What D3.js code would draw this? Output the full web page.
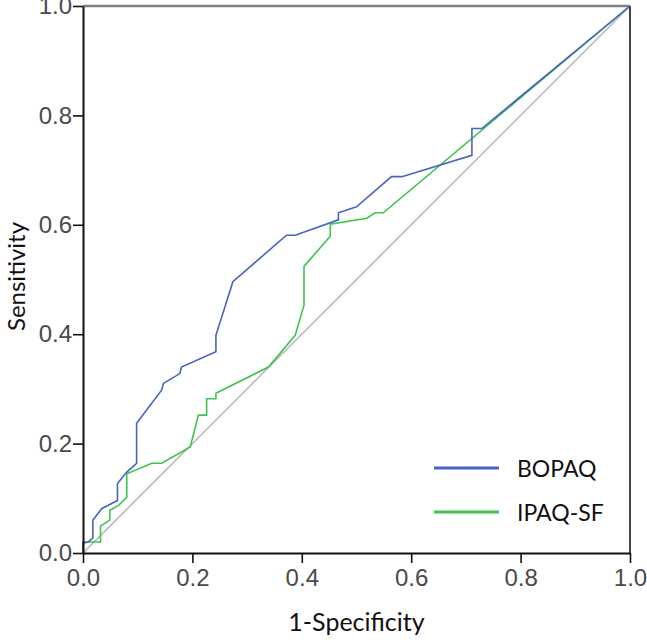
<!DOCTYPE html>
<html>
<head>
<meta charset="utf-8">
<script src="https://cdn.jsdelivr.net/npm/d3@7"></script>
<style>
  html, body { margin: 0; padding: 0; background: #fff; }
  svg { display: block; }
</style>
</head>
<body>
<div id="chart"></div>
<script>
const
  width = 647,
  height = 640;

const margin = {top: 6, right: 17, bottom: 87, left: 83};

// ROC curve points (1-specificity, sensitivity)
const bopaqFpr = [0, 0, 0.009, 0.018, 0.018, 0.034, 0.063, 0.063, 0.080, 0.098, 0.098, 0.144, 0.147, 0.177, 0.180, 0.243, 0.243, 0.274, 0.372, 0.388, 0.467, 0.467, 0.500, 0.564, 0.583, 0.711, 0.711, 0.729, 1];
const bopaqTpr = [0, 0.018, 0.020, 0.027, 0.060, 0.081, 0.096, 0.127, 0.148, 0.164, 0.237, 0.298, 0.310, 0.328, 0.340, 0.368, 0.398, 0.496, 0.581, 0.581, 0.609, 0.622, 0.633, 0.688, 0.688, 0.727, 0.776, 0.776, 1];

const ipaqFpr = [0, 0, 0.032, 0.032, 0.049, 0.049, 0.065, 0.080, 0.080, 0.126, 0.144, 0.196, 0.211, 0.226, 0.226, 0.243, 0.243, 0.339, 0.388, 0.404, 0.404, 0.452, 0.452, 0.519, 0.534, 0.549, 1];
const ipaqTpr = [0, 0.020, 0.020, 0.049, 0.060, 0.078, 0.087, 0.102, 0.145, 0.164, 0.164, 0.194, 0.252, 0.252, 0.282, 0.282, 0.292, 0.340, 0.398, 0.453, 0.524, 0.579, 0.601, 0.612, 0.622, 0.622, 1];

const seriesNames = ["BOPAQ", "IPAQ-SF"];
const seriesColors = ["#4a62c2", "#3ec44f"];
const tickValues = [0, 0.2, 0.4, 0.6, 0.8, 1.0];

const svg = d3.select("#chart")
  .append("svg")
  .attr("width", width)
  .attr("height", height);

const x = d3.scaleLinear()
  .domain([0, 1])
  .range([margin.left, width - margin.right]);

const y = d3.scaleLinear()
  .domain([0, 1])
  .range([height - margin.bottom, margin.top]);

// reference diagonal
svg.append("line")
  .attr("x1", x(0)).attr("y1", y(0))
  .attr("x2", x(1)).attr("y2", y(1))
  .attr("stroke", "#b4b4b4")
  .attr("stroke-width", 1.5);

const line = d3.line()
  .x(d => x(d[0]))
  .y(d => y(d[1]));

const series = [
  d3.zip(bopaqFpr, bopaqTpr),
  d3.zip(ipaqFpr, ipaqTpr)
];

// draw green below blue
[1, 0].forEach(i => {
  svg.append("path")
    .datum(series[i])
    .attr("fill", "none")
    .attr("stroke", seriesColors[i])
    .attr("stroke-width", 1.6)
    .attr("stroke-linejoin", "miter")
    .attr("d", line);
});

// frame: top and right
svg.append("line")
  .attr("x1", x(0)).attr("y1", y(1))
  .attr("x2", x(1)).attr("y2", y(1))
  .attr("stroke", "#7f7f7f")
  .attr("stroke-width", 2.5);

svg.append("line")
  .attr("x1", x(1)).attr("y1", y(1))
  .attr("x2", x(1)).attr("y2", y(0))
  .attr("stroke", "#444")
  .attr("stroke-width", 2);

// axes
const fmt = d3.format(".1f");

const xAxis = svg.append("g")
  .attr("transform", "translate(0," + y(0) + ")")
  .call(d3.axisBottom(x).tickValues(tickValues).tickFormat(fmt).tickSize(10).tickSizeOuter(0).tickPadding(6));

const yAxis = svg.append("g")
  .attr("transform", "translate(" + x(0) + ",0)")
  .call(d3.axisLeft(y).tickValues(tickValues).tickFormat(fmt).tickSize(10).tickSizeOuter(0).tickPadding(1));

[xAxis, yAxis].forEach(g => {
  g.select(".domain").attr("stroke", "#111").attr("stroke-width", 2);
  g.selectAll(".tick line").attr("stroke", "#111").attr("stroke-width", 1.6);
  g.selectAll(".tick text")
    .attr("fill", "#4a4a4a")
    .style("font-family", "'Liberation Sans', Arial, sans-serif")
    .style("font-weight", "300")
    .style("font-size", "24px");
});

// axis titles
svg.append("text")
  .attr("x", (x(0) + x(1)) / 2)
  .attr("y", 631)
  .attr("text-anchor", "middle")
  .style("font-family", "Lato, 'Open Sans', sans-serif")
  .style("font-size", "25px")
  .attr("fill", "#111")
  .text("1-Specificity");

svg.append("text")
  .attr("transform", "translate(25," + (y(0.5) - 3) + ") rotate(-90)")
  .attr("text-anchor", "middle")
  .style("font-family", "Lato, 'Open Sans', sans-serif")
  .style("font-size", "24px")
  .attr("fill", "#111")
  .text("Sensitivity");

// legend
const legend = svg.append("g");
seriesNames.forEach((name, i) => {
  const ly = 468 + i * 44;
  legend.append("line")
    .attr("x1", 434).attr("x2", 499)
    .attr("y1", ly).attr("y2", ly)
    .attr("stroke", seriesColors[i])
    .attr("stroke-width", 3);
  legend.append("text")
    .attr("x", 517)
    .attr("y", ly + 9)
    .style("font-family", "Lato, 'Open Sans', sans-serif")
    .style("font-size", "23px")
    .attr("fill", "#111")
    .text(name);
});
</script>
</body>
</html>
